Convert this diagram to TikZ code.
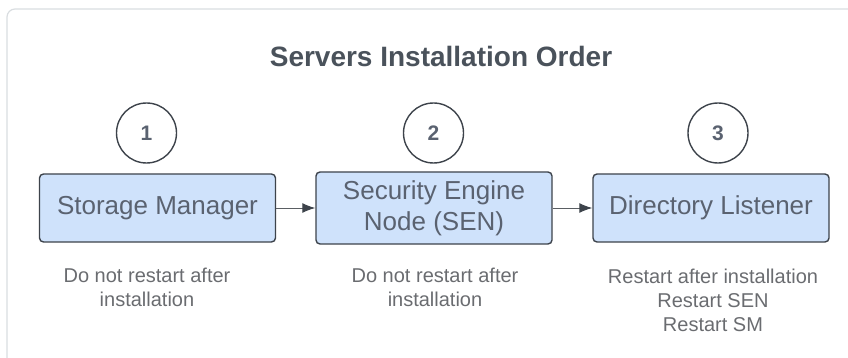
\documentclass[tikz,border=0pt]{standalone}
\usepackage{fontspec}
\setmainfont{Liberation Sans}
\usetikzlibrary{arrows.meta}
\definecolor{framegray}{HTML}{D9DDE0}
\definecolor{boxfill}{HTML}{CFE2FB}
\definecolor{boxline}{HTML}{3D434B}
\definecolor{boxtext}{HTML}{5A6270}
\definecolor{titletext}{HTML}{4A525B}
\definecolor{notetext}{HTML}{6A6C70}
\definecolor{arrowgray}{HTML}{5A5E63}

\begin{document}
\begin{tikzpicture}[x=1pt, y=-1pt,
	server/.style={draw=boxline, line width=1.4pt, fill=boxfill, rounded corners=4pt,
		minimum width=236pt, minimum height=68pt, inner sep=0pt, align=center,
		text=boxtext, font=\fontsize{26}{31}\selectfont},
	badge/.style={circle, draw=boxline, line width=1.4pt, minimum size=60pt, inner sep=0pt,
		text=boxtext, font=\fontsize{21}{25}\selectfont\bfseries},
	note/.style={anchor=north, inner sep=0pt, align=center, text=notetext,
		font=\fontsize{20}{24}\selectfont},
	flow/.style={draw=arrowgray, line width=1pt, -{Latex[length=13pt, width=10pt, color=boxline]}}]
	\clip (0, 0) rectangle (848, 358);
	\path (0, 0) rectangle (848, 358); % Explicit bounding box
	\draw [framegray, line width=1.2pt, rounded corners=8pt] (7, 9) rectangle (880, 400);
	\node [anchor=base, text=titletext, font=\fontsize{28}{32}\selectfont\bfseries] (title) at (441, 67) {Servers Installation Order};
	% servers
	\node [server] (sm) at (157.5, 208) {Storage Manager};
	\node [server, minimum height=72pt] (sen) at (434, 208) {Security Engine\\Node (SEN)};
	\node [server] (dl) at (711, 208) {Directory Listener};
	\node [badge] (n1) at (146.5, 133) {1};
	\node [badge] (n2) at (433.5, 133) {2};
	\node [badge] (n3) at (718, 133) {3};
	\draw [flow] (sm) -- (sen);
	\draw [flow] (sen) -- (dl);
	% notes
	\node [note] (note1) at (147, 268) {Do not restart after\\installation};
	\node [note] (note2) at (435, 268) {Do not restart after\\installation};
	\node [note] (note3) at (713, 269) {Restart after installation\\Restart SEN\\Restart SM};
\end{tikzpicture}
\end{document}
